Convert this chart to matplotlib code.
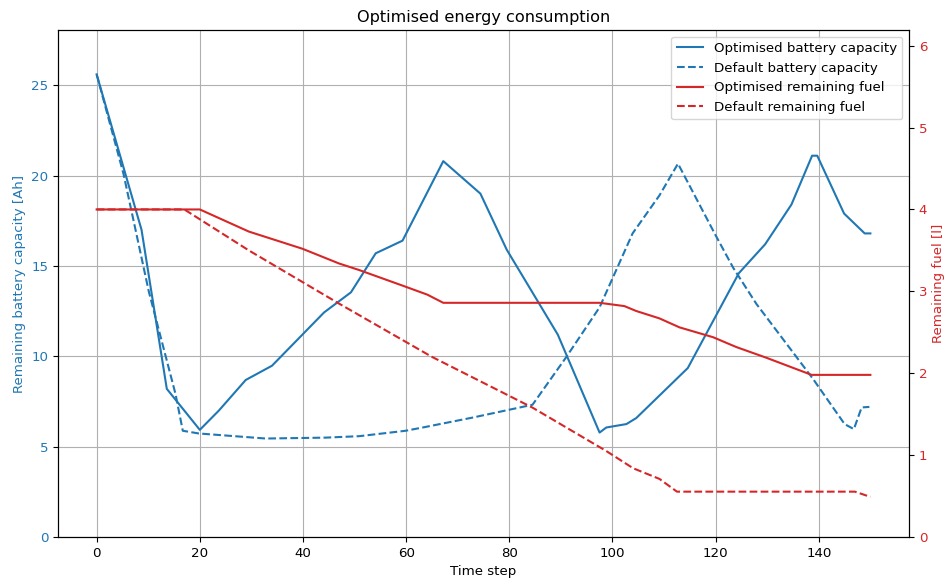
import numpy as np
import matplotlib
matplotlib.use("Agg")
import matplotlib.pyplot as plt

# optimised battery capacity [Ah]
opt_bat_x = [0, 8.7, 13.6, 20, 23.7, 28.9, 34, 44.1, 49.3, 54.1, 59.3, 67.2, 74.4,
             79.5, 89.4, 97.5, 98.8, 102.7, 104.6, 114.6, 124.5, 129.6, 134.7,
             138.7, 139.7, 144.9, 148.9, 150]
opt_bat_y = [25.6, 17.0, 8.2, 5.93, 7.0, 8.69, 9.48, 12.43, 13.54, 15.7, 16.4, 20.8, 19.0,
             15.9, 11.2, 5.78, 6.06, 6.25, 6.58, 9.35, 14.6, 16.2, 18.4,
             21.1, 21.1, 17.9, 16.8, 16.8]

# default battery capacity [Ah]
def_bat_x = [0, 5.2, 10.1, 15.3, 16.7, 19.8, 32.8, 44.4, 50.9, 59.9, 63.2, 72.9, 84.5,
             91, 97.5, 103.9, 109.1, 112.7, 119.8, 123.4, 127.9, 138.9, 145, 146.8,
             148.3, 149.8]
def_bat_y = [25.6, 20.1, 13.6, 7.9, 5.88, 5.73, 5.45, 5.5, 5.58, 5.88, 6.06, 6.61, 7.32,
             9.94, 12.71, 16.8, 18.9, 20.66, 16.8, 14.9, 12.9, 8.74, 6.25, 5.97,
             7.17, 7.2]

# optimised remaining fuel [l]
opt_fuel_x = [0, 20, 29.5, 39.9, 47, 50.9, 59.3, 64.1, 67.2, 97.5, 102.3, 104.6, 109.1,
              113, 119.5, 124, 129.8, 138.6, 150]
opt_fuel_y = [4.0, 4.0, 3.73, 3.52, 3.34, 3.26, 3.07, 2.96, 2.86, 2.86, 2.82, 2.76, 2.67,
              2.56, 2.44, 2.32, 2.19, 1.98, 1.98]

# default remaining fuel [l]
def_fuel_x = [0, 17, 29.5, 47, 65, 84.5, 98.8, 104, 109.1, 112.5, 147, 150]
def_fuel_y = [4.0, 4.0, 3.50, 2.85, 2.2, 1.58, 1.05, 0.84, 0.71, 0.554, 0.554, 0.49]

blue = "tab:blue"
red = "tab:red"

plt.rcParams['font.size'] = 9.6
plt.rcParams['axes.titlesize'] = 11.6

fig = plt.figure(figsize=(9.44, 5.79), dpi=100)
ax1 = fig.add_axes([0.0614, 0.0725, 0.9016, 0.8755])
ax2 = ax1.twinx()

l1, = ax1.plot(opt_bat_x, opt_bat_y, color=blue, linestyle="-", label="Optimised battery capacity")
l2, = ax1.plot(def_bat_x, def_bat_y, color=blue, linestyle="--", label="Default battery capacity")
l3, = ax2.plot(opt_fuel_x, opt_fuel_y, color=red, linestyle="-", label="Optimised remaining fuel")
l4, = ax2.plot(def_fuel_x, def_fuel_y, color=red, linestyle="--", label="Default remaining fuel")

ax1.set_xlim(-7.5, 157.5)
ax1.set_ylim(0, 28.05)
ax2.set_ylim(0, 6.19)
ax1.set_xticks(np.arange(0, 141, 20))
ax1.set_yticks(np.arange(0, 26, 5))
ax2.set_yticks(np.arange(0, 7, 1))

ax1.grid(True)
ax1.set_xlabel("Time step")
ax1.set_ylabel("Remaining battery capacity [Ah]", color=blue)
ax2.set_ylabel("Remaining fuel [l]", color=red, labelpad=3)
ax1.tick_params(axis="y", labelcolor=blue)
ax2.tick_params(axis="y", labelcolor=red)
ax1.set_title("Optimised energy consumption")

ax2.legend(handles=[l1, l2, l3, l4], loc="upper right")

fig.savefig("out.png", dpi=100)
